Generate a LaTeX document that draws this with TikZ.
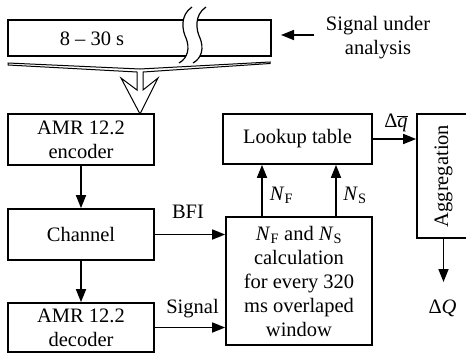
\documentclass[tikz,border=0pt]{standalone}
\usepackage{fontspec}
\setmainfont{Liberation Serif}
\usetikzlibrary{arrows.meta}
\begin{document}
\begin{tikzpicture}[x=1pt,y=-1pt,
  txt/.style={font=\fontsize{20.5}{24}\selectfont},
  box/.style={draw, line width=1.7pt, inner sep=0pt, align=center, txt},
  flow/.style={line width=1.7pt, -{Triangle[length=13pt,width=10pt]}},
  lbl/.style={inner sep=0pt, anchor=base, txt},
  thinline/.style={line width=1pt}]
\useasboundingbox (0,0) rectangle (466,354);

% signal strip with a break in it
\draw[line width=1.7pt] (8,20) rectangle (271,56);
\fill[white] (192,7) .. controls (180,15) and (182,30) .. (186,38)
  .. controls (190,48) and (188,58) .. (179,63) -- (193,63)
  .. controls (202,58) and (204,48) .. (200,38)
  .. controls (196,30) and (194,15) .. (206,7) -- cycle;
\draw[line width=1.2pt] (192,7) .. controls (180,15) and (182,30) .. (186,38)
  .. controls (190,48) and (188,58) .. (179,63);
\draw[line width=1.2pt] (206,7) .. controls (194,15) and (196,30) .. (200,38)
  .. controls (204,48) and (202,58) .. (193,63);
\node[lbl] (seg) at (92,45) {8 -- 30 s};

% funnel with hollow arrow into the encoder
\draw[thinline, fill=white, line join=miter]
  (8,63) -- (140,69) -- (270,62) -- (270,63.5) -- (143,72) -- (143,90)
  -- (158,78) -- (140,114) -- (121,78) -- (137,90) -- (137,72) -- (8,65) -- cycle;

% signal label and its arrow
\node[txt, inner sep=0pt, align=center] (sig) at (378,38) {Signal under\\analysis};
\coordinate (sigtail) at (314,35);
\coordinate (barend) at (281,35);
\draw[flow] (sigtail) -- (barend);

% processing chain
\node[box, minimum width=146pt, minimum height=51pt] (enc) at (81,139.5) {AMR 12.2\\encoder};
\node[box, minimum width=146pt, minimum height=51pt] (chan) at (81,234.5) {Channel};
\node[box, minimum width=146pt, minimum height=49pt] (dec) at (81,327.5) {AMR 12.2\\decoder};
\node[box, minimum width=149pt, minimum height=50pt] (lut) at (297.5,139) {Lookup table};
\node[box, minimum width=146pt, minimum height=128pt] (calc) at (299,281)
  {\textit{N}\textsubscript{F} and \textit{N}\textsubscript{S}\\calculation\\for every 320\\ms overlaped\\window};
\node[box, rotate=90, minimum width=124pt, minimum height=53pt] (agg) at (443.5,176) {Aggregation};
\coordinate (qout) at (443.5,282);

\draw[flow] (enc.south) -- (chan.north);
\draw[flow] (chan.south) -- (dec.north);
\draw[flow] (chan.east) -- (chan.east -| calc.west);
\draw[flow] (dec.east) -- (dec.east -| calc.west);
\draw[flow] ([xshift=-37pt]calc.north) -- ([xshift=-37pt]calc.north |- lut.south);
\draw[flow] ([xshift=37pt]calc.north) -- ([xshift=37pt]calc.north |- lut.south);
\draw[flow] (lut.east) -- (lut.east -| agg.north);
\draw[flow] (agg.west) -- (qout);

% connector labels
\node[lbl] (lbfi) at (188,218) {BFI};
\node[lbl] (lsig) at (192.5,313) {Signal};
\node[lbl] (lnf) at (281.5,200) {\textit{N}\textsubscript{F}};
\node[lbl] (lns) at (355,200) {\textit{N}\textsubscript{S}};
\node[lbl] (ldq) at (396,127) {Δ$\overline{\mbox{\textit{q}}}$};
\node[lbl] (ldQ) at (442.5,313) {Δ\textit{Q}};
\end{tikzpicture}
\end{document}
